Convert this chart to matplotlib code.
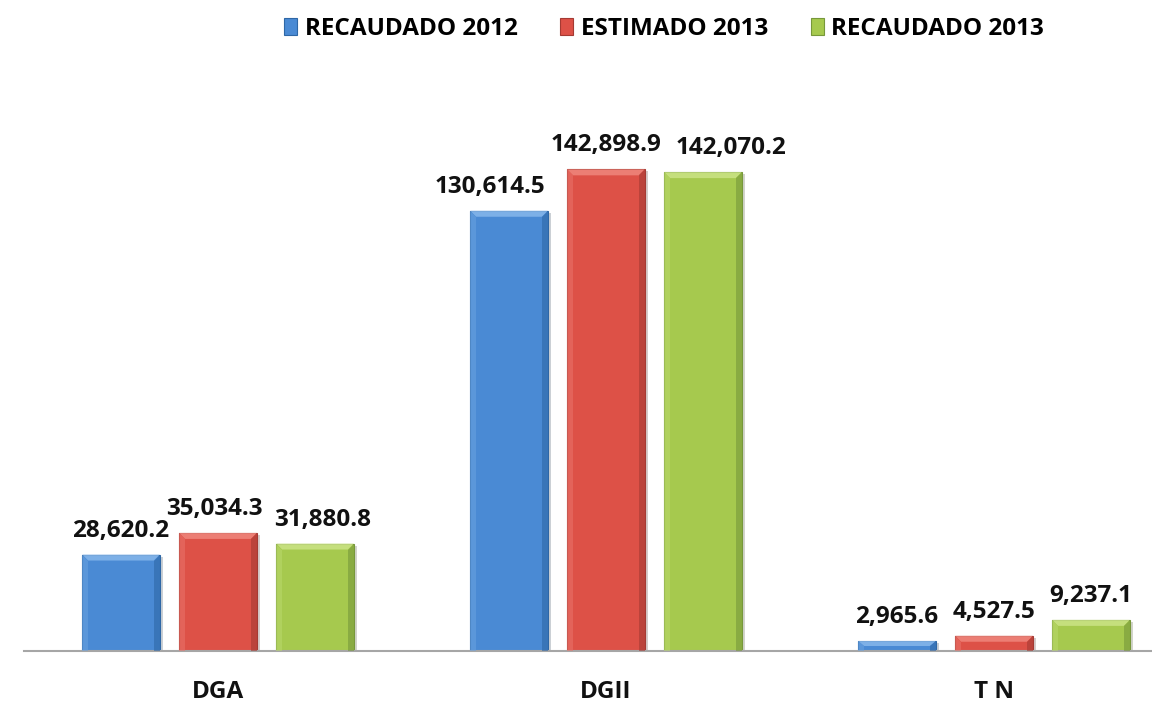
import matplotlib
matplotlib.use("Agg")
import matplotlib.pyplot as plt
import matplotlib.patheffects as pe
from matplotlib.patches import Polygon, Patch
import numpy as np

categories = ["DGA", "DGII", "T N"]
series_names = ["RECAUDADO 2012", "ESTIMADO 2013", "RECAUDADO 2013"]
recaudado_2012 = [28620.2, 130614.5, 2965.6]
estimado_2013 = [35034.3, 142898.9, 4527.5]
recaudado_2013 = [31880.8, 142070.2, 9237.1]
series_values = [recaudado_2012, estimado_2013, recaudado_2013]

face = ["#4a8ad4", "#dd5147", "#a6c94e"]
light = ["#8fbdee", "#f28e84", "#d0e78e"]
dark = ["#2e67a6", "#a53a33", "#77983a"]
lightside = ["#6aa2e0", "#e8736a", "#b9d86c"]

# label x offsets in pixels (style), per series per category
label_dx = [[0, -19, 0], [-4, 0, 0], [8, 28, 0]]

plt.rcParams['font.family'] = ['Open Sans', 'DejaVu Sans']
FS = 17.5

fig = plt.figure(figsize=(11.52, 7.02), dpi=100)
W, H = 1152, 702
left_px, right_px, base_px, top_px = 24, 1152, 651, 80
ax = fig.add_axes([left_px / W, (H - base_px) / H, (right_px - left_px) / W, (base_px - top_px) / H])

xlim = (-0.5, 2.5 - (1188 - 1152) / 388)
ylim = (0, 169400)
ax.set_xlim(*xlim)
ax.set_ylim(*ylim)

x = np.arange(len(categories))
width = 0.2
offsets = [-0.25, 0.0, 0.25]

px_x = (right_px - left_px) / (xlim[1] - xlim[0])
px_y = (base_px - top_px) / (ylim[1] - ylim[0])
bev = 6.0

for si, vals in enumerate(series_values):
    bars = ax.bar(x + offsets[si], vals, width, color=face[si], edgecolor=dark[si],
                  linewidth=0.8, zorder=2,
                  path_effects=[pe.SimplePatchShadow(offset=(2.5, -1.5), alpha=0.22), pe.Normal()])
    for ci, b in enumerate(bars):
        x0 = b.get_x(); x1 = x0 + b.get_width(); h = b.get_height()
        bx = bev / px_x
        by = min(bev / px_y, h / 2)
        top = Polygon([(x0, h), (x1, h), (x1 - bx, h - by), (x0 + bx, h - by)],
                      closed=True, facecolor=light[si], edgecolor='none', zorder=3, alpha=0.75)
        rgt = Polygon([(x1, h), (x1, 0), (x1 - bx, 0), (x1 - bx, h - by)],
                      closed=True, facecolor=dark[si], edgecolor='none', zorder=3, alpha=0.6)
        lft = Polygon([(x0, h), (x0, 0), (x0 + bx, 0), (x0 + bx, h - by)],
                      closed=True, facecolor=lightside[si], edgecolor='none', zorder=3, alpha=0.55)
        for p in (top, rgt, lft):
            ax.add_patch(p)
        ax.annotate(f"{h:,.1f}", xy=(b.get_x() + b.get_width() / 2, h),
                    xytext=(label_dx[si][ci] * 0.72, 18 * 0.72), textcoords='offset points',
                    ha='center', va='baseline', fontsize=FS, fontweight='bold', color='#111111')

for s in ['left', 'top', 'right']:
    ax.spines[s].set_visible(False)
ax.spines['bottom'].set_color('#a6a6a6')
ax.spines['bottom'].set_linewidth(1.5)
ax.set_yticks([])
ax.set_xticks(x)
ax.set_xticklabels(categories, fontsize=FS, fontweight='bold', color='#111111')
ax.tick_params(axis='x', length=0, pad=21)

handles = [Patch(facecolor=face[i], edgecolor=dark[i], linewidth=0.8) for i in range(3)]
fig.legend(handles, series_names, loc='center', bbox_to_anchor=(664 / W, 1 - 29 / H),
           ncol=3, frameon=False, handlelength=0.55, handleheight=0.75,
           handletextpad=0.3, columnspacing=1.75,
           prop={'size': FS, 'weight': 'bold'})

fig.savefig("out.png", dpi=100)
